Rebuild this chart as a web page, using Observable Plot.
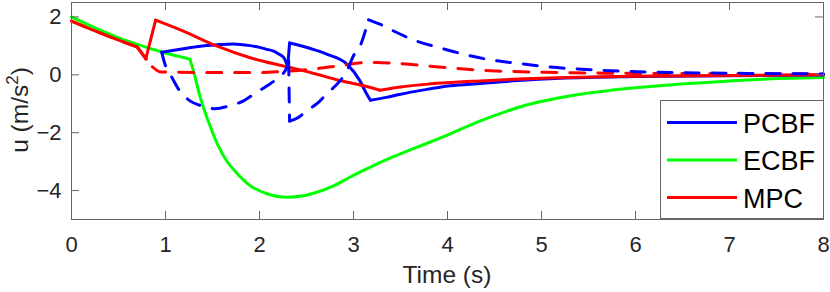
<!DOCTYPE html>
<html>
<head>
<meta charset="utf-8">
<script src="https://cdn.jsdelivr.net/npm/d3@7"></script>
<script src="https://cdn.jsdelivr.net/npm/@observablehq/plot@0.6"></script>
<style>
  html, body { margin: 0; padding: 0; background: #fff; }
  #chart { width: 830px; height: 292px; }
</style>
</head>
<body>
<div id="chart"></div>
<script>
// ---- Data ----
const xTicks = [0, 1, 2, 3, 4, 5, 6, 7, 8];
const yTicks = [-4, -2, 0, 2];
const xLabel = "Time (s)";
const seriesNames = ["PCBF", "ECBF", "MPC"];
const seriesColors = ["#0000ff", "#00ff00", "#ff0000"];

// ECBF (green, solid)
const ecbfT = [0, 0.25, 0.5, 0.75, 0.95, 1.1, 1.2, 1.26, 1.3, 1.37, 1.48, 1.56, 1.65, 1.76, 1.9, 2.08, 2.29, 2.45, 2.61, 2.8, 2.96, 3.14, 3.32, 3.5, 3.67, 4.03, 4.35, 4.62, 4.88, 5.15, 5.41, 5.94, 6.48, 7.0, 7.54, 8.0];
const ecbfU = [2.0, 1.62, 1.28, 1.0, 0.8, 0.67, 0.59, 0.54, 0.1, -0.78, -1.82, -2.45, -2.97, -3.4, -3.83, -4.11, -4.23, -4.19, -4.06, -3.82, -3.54, -3.25, -2.97, -2.73, -2.51, -2.04, -1.59, -1.27, -1.01, -0.82, -0.67, -0.46, -0.32, -0.21, -0.13, -0.09];
const ecbfCorners = [1.26];

// PCBF (blue, solid)
const pcbfT = [0.96, 1.19, 1.35, 1.55, 1.72, 1.9, 2.0, 2.08, 2.15, 2.2, 2.26, 2.29, 2.3, 2.32, 2.4, 2.55, 2.72, 2.93, 3.07, 3.13, 3.18, 3.35, 3.5, 3.75, 4.03, 4.35, 4.75, 5.2, 6.0, 7.0, 8.0];
const pcbfU = [0.78, 0.9, 0.98, 1.04, 1.07, 1.01, 0.95, 0.88, 0.82, 0.73, 0.59, 0.38, 0.3, 1.1, 1.04, 0.9, 0.71, 0.37, -0.21, -0.6, -0.88, -0.78, -0.67, -0.52, -0.38, -0.3, -0.2, -0.12, -0.06, -0.03, -0.01];
const pcbfCorners = [2.3, 2.32, 3.18];

// PCBF variant (blue, dashed)
const pcbfDashT = [0.96, 1.0, 1.07, 1.15, 1.26, 1.38, 1.53, 1.68, 1.83, 1.94, 2.08, 2.18, 2.29, 2.31, 2.32, 2.41, 2.5, 2.63, 2.73, 2.84, 2.93, 3.0, 3.07, 3.16, 3.28, 3.45, 3.64, 3.9, 4.24, 4.42, 4.77, 5.06, 5.62, 6.19, 7.19, 8.0];
const pcbfDashU = [0.78, 0.31, -0.1, -0.55, -0.9, -1.07, -1.17, -1.07, -0.9, -0.67, -0.38, -0.15, 0.25, 0.48, -1.6, -1.48, -1.25, -0.94, -0.61, -0.27, 0.14, 0.66, 1.0, 1.9, 1.75, 1.48, 1.2, 0.95, 0.66, 0.54, 0.39, 0.28, 0.16, 0.09, 0.05, 0.03];
const pcbfDashCorners = [2.31, 2.32, 3.16];

// MPC (red, solid)
const mpcT = [0, 0.25, 0.5, 0.7, 0.79, 0.895, 1.19, 1.55, 1.9, 2.26, 2.43, 2.6, 2.82, 3.11, 3.28, 3.5, 3.8, 4.35, 5.0, 6.0, 7.0, 8.0];
const mpcU = [1.86, 1.52, 1.2, 0.96, 0.55, 1.89, 1.51, 0.99, 0.59, 0.3, 0.17, 0.03, -0.17, -0.38, -0.53, -0.42, -0.32, -0.21, -0.12, -0.05, -0.02, 0.0];
const mpcCorners = [0.7, 0.79, 0.895, 3.28];

// MPC variant (red, dashed)
const mpcDashT = [0, 0.25, 0.5, 0.7, 0.86, 0.95, 1.5, 2.0, 2.22, 2.57, 2.88, 3.11, 3.25, 3.44, 3.99, 4.35, 5.2, 6.0, 7.0, 8.0];
const mpcDashU = [1.86, 1.52, 1.2, 0.96, 0.28, 0.1, 0.08, 0.08, 0.11, 0.2, 0.33, 0.42, 0.43, 0.4, 0.25, 0.16, 0.08, 0.05, 0.04, 0.03];
const mpcDashCorners = [0.7, 0.86];

// split a series at its sharp corners into smooth pieces (sharing the corner points)
function pieces(T, U, corners) {
  const rows = [];
  let seg = 0;
  T.forEach((t, i) => {
    rows.push({t, u: U[i], seg});
    if (corners.includes(t) && i > 0 && i < T.length - 1) {
      seg += 1;
      rows.push({t, u: U[i], seg});
    }
  });
  return rows;
}
const ecbf = pieces(ecbfT, ecbfU, ecbfCorners);
const pcbf = pieces(pcbfT, pcbfU, pcbfCorners);
const pcbfDash = pieces(pcbfDashT, pcbfDashU, pcbfDashCorners);
const mpc = pieces(mpcT, mpcU, mpcCorners);
const mpcDash = pieces(mpcDashT, mpcDashU, mpcDashCorners);

const axisColor = "#666666";
const textColor = "#262626";

const W = 830, H = 292, ML = 71, MR = 7, MT = 2, MB = 73;
const tickLen = 8;
const innerW = W - ML - MR, innerH = H - MT - MB;
const lineOpts = {x: "t", y: "u", z: "seg", strokeWidth: 3, curve: "monotone-x", strokeLinejoin: "miter"};

const chart = Plot.plot({
  width: W,
  height: H,
  marginLeft: ML,
  marginRight: MR,
  marginTop: MT,
  marginBottom: MB,
  style: {fontFamily: "'Liberation Sans', Arial, sans-serif", fontSize: "22px", color: textColor, background: "#ffffff", overflow: "visible"},
  x: {domain: [0, 8]},
  y: {domain: [-5, 2.5]},
  marks: [
    Plot.line(ecbf, {...lineOpts, stroke: seriesColors[1]}),
    Plot.line(pcbf, {...lineOpts, stroke: seriesColors[0]}),
    Plot.line(mpc, {...lineOpts, stroke: seriesColors[2]}),
    Plot.line(mpcDash, {...lineOpts, stroke: seriesColors[2], strokeDasharray: "15,13"}),
    Plot.line(pcbfDash, {...lineOpts, stroke: seriesColors[0], strokeDasharray: "14,13"}),
    Plot.frame({stroke: axisColor, strokeWidth: 1}),
    // inward tick marks on all four sides
    Plot.tickX(xTicks, {x: d => d, insetTop: innerH - tickLen, stroke: axisColor}),
    Plot.tickX(xTicks, {x: d => d, insetBottom: innerH - tickLen, stroke: axisColor}),
    Plot.tickY(yTicks, {y: d => d, insetRight: innerW - tickLen, stroke: axisColor}),
    Plot.tickY(yTicks, {y: d => d, insetLeft: innerW - tickLen, stroke: axisColor}),
    Plot.axisX({ticks: xTicks, tickSize: 0, tickPadding: 17, label: null, fontSize: 22, fill: textColor}),
    Plot.axisY({ticks: yTicks, tickSize: 0, tickPadding: 10, label: null, fontSize: 22, fill: textColor})
  ]
});

document.getElementById("chart").appendChild(chart);

const svg = d3.select(chart);
// x label
svg.append("text")
  .attr("x", ML + innerW / 2).attr("y", 283)
  .attr("text-anchor", "middle")
  .attr("fill", textColor)
  .style("font-size", "24.5px")
  .text(xLabel);

// y label with superscript
const yl = svg.append("text")
  .attr("transform", "translate(28,110) rotate(-90)")
  .attr("text-anchor", "middle")
  .attr("fill", textColor)
  .style("font-size", "24.5px");
yl.append("tspan").text("u (m/s");
yl.append("tspan").attr("dy", -10).style("font-size", "17px").text("2");
yl.append("tspan").attr("dy", 10).text(")");

// legend
const lg = svg.append("g").attr("text-anchor", "start");
lg.append("rect")
  .attr("x", 660.5).attr("y", 100.5).attr("width", 163).attr("height", 118)
  .attr("fill", "#ffffff").attr("stroke", axisColor).attr("stroke-width", 1);
const rowsY = [122.5, 160, 197.5];
seriesNames.forEach((name, i) => {
  lg.append("line")
    .attr("x1", 667).attr("x2", 737).attr("y1", rowsY[i]).attr("y2", rowsY[i])
    .attr("stroke", seriesColors[i]).attr("stroke-width", 3);
  lg.append("text")
    .attr("x", 743).attr("y", rowsY[i] + 10)
    .attr("text-anchor", "start")
    .attr("fill", "#000000")
    .style("font-size", "27px")
    .text(name);
});
</script>
</body>
</html>
